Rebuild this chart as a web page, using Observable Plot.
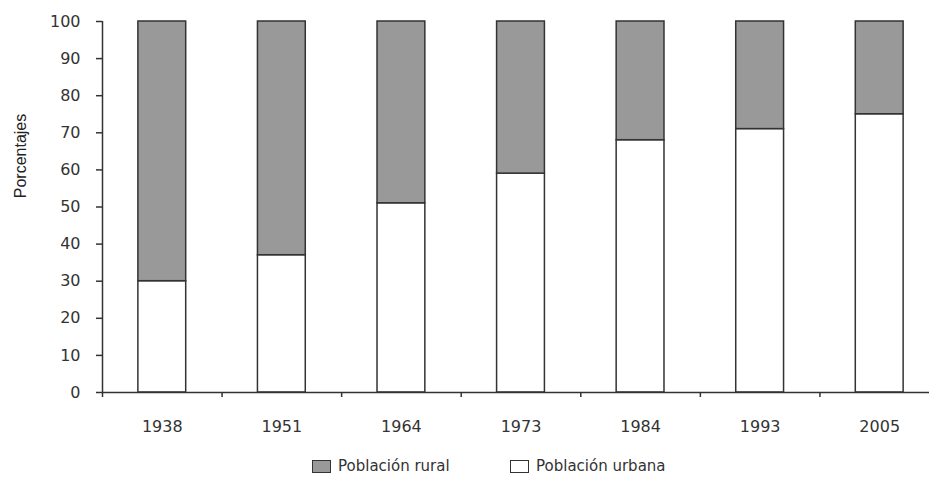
<!DOCTYPE html>
<html>
<head>
<meta charset="utf-8">
<script src="https://cdn.jsdelivr.net/npm/d3@7"></script>
<script src="https://cdn.jsdelivr.net/npm/@observablehq/plot@0.6"></script>
<style>
  html, body { margin: 0; padding: 0; background: #fff; overflow: hidden; }
  body { width: 929px; height: 478px; font-family: "DejaVu Sans", sans-serif; position: relative; }
  #chart svg { display: block; overflow: visible; }
  .legend { position: absolute; top: 457px; font-size: 15px; color: #333; display: flex; align-items: center; white-space: nowrap; }
  .sw { display: inline-block; width: 17px; height: 11px; border: 1.5px solid #333; margin-right: 7px; }
</style>
</head>
<body>
<div id="chart"></div>
<div class="legend" style="left:312px"><i class="sw" style="background:#999"></i>Población rural</div>
<div class="legend" style="left:510px"><i class="sw" style="background:#fff"></i>Población urbana</div>
<script>
const years = ["1938", "1951", "1964", "1973", "1984", "1993", "2005"];
const urbana = [30, 37, 51, 59, 68, 71, 75];
const rural = [70, 63, 49, 41, 32, 29, 25];
const yTicks = [0, 10, 20, 30, 40, 50, 60, 70, 80, 90, 100];
const seriesNames = ["Población urbana", "Población rural"];
const seriesColors = ["#ffffff", "#999999"];

const data = [];
years.forEach((y, i) => {
  data.push({year: y, serie: seriesNames[0], value: urbana[i]});
  data.push({year: y, serie: seriesNames[1], value: rural[i]});
});

const width = 929, marginLeft = 102, marginRight = -10;
const step = (width - marginRight - marginLeft) / years.length;

const chart = Plot.plot({
  width,
  height: 445,
  marginLeft,
  marginRight,
  marginTop: 21,
  marginBottom: 53,
  style: {fontFamily: "'DejaVu Sans', sans-serif", fontSize: "16px", color: "#333", background: "#fff"},
  x: {domain: years, paddingInner: 0.6, paddingOuter: 0.3, round: false, label: null},
  y: {domain: [0, 100], label: null},
  color: {domain: seriesNames, range: seriesColors},
  marks: [
    Plot.barY(data, Plot.stackY({x: "year", y: "value", fill: "serie", order: seriesNames, stroke: "#333", strokeWidth: 1.5})),
    Plot.ruleY([0], {stroke: "#333", strokeWidth: 1.5}),
    Plot.ruleX([years[0]], {x: d => d, dx: -step / 2, y1: 0, y2: 100, stroke: "#333", strokeWidth: 1.5}),
    Plot.ruleX(years, {x: d => d, dx: -step / 2, y1: 0, y2: 0, insetBottom: -5, stroke: "#333", strokeWidth: 1.5}),
    Plot.axisY({ticks: yTicks, tickSize: 6, tickPadding: 16, stroke: "#333", strokeWidth: 1.5, label: null, fill: "#333"}),
    Plot.axisX({tickSize: 0, tickPadding: 28, label: null, fill: "#333"}),
    Plot.text(["Porcentajes"], {frameAnchor: "left", textAnchor: "middle", dx: -82, dy: -51, rotate: -90, fontSize: 16, fontFamily: "'Liberation Sans', Arial, sans-serif", fill: "#222"})
  ]
});
document.getElementById("chart").appendChild(chart);
</script>
</body>
</html>
